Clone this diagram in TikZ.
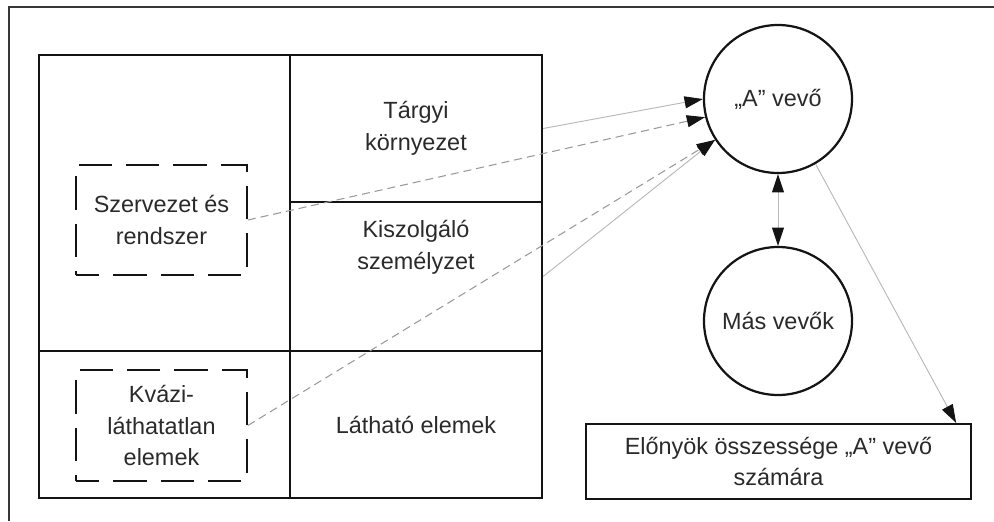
\documentclass[tikz,border=0pt]{standalone}
\usepackage{fontspec}
\setmainfont{Liberation Sans}
\usepackage{xcolor}
\usepackage{tikz}
\usetikzlibrary{arrows.meta, positioning, calc}
\definecolor{VV_LINE}{HTML}{141414}
\definecolor{VV_TEXT}{HTML}{2a2a2a}
\definecolor{VV_GRAY}{HTML}{b8b8b8}
\definecolor{VV_DASH}{HTML}{999999}
\tikzset{
  cell/.style={
    rectangle, inner sep=0pt,
    minimum width=7.56cm, minimum height=4.41cm,
    text centered, align=center,
    draw=VV_LINE, line width=1.9pt, text=VV_TEXT,
    font=\fontsize{20}{27}\selectfont},
  ghost/.style={
    rectangle, inner sep=0pt,
    minimum width=5.13cm, minimum height=3.3cm,
    text centered, align=center,
    draw=VV_LINE, line width=1.4pt, text=VV_TEXT,
    dash pattern=on 1.0cm off 0.42cm, dash phase=0.3cm,
    font=\fontsize{20}{27}\selectfont},
  buyer/.style={
    circle, inner sep=0pt, minimum size=4.44cm,
    text centered, align=center,
    draw=VV_LINE, line width=1.9pt, text=VV_TEXT,
    font=\fontsize{20}{27}\selectfont},
  gain/.style={
    rectangle, inner sep=0pt,
    minimum width=11.55cm, minimum height=2.25cm,
    text centered, align=center,
    draw=VV_LINE, line width=1.9pt, text=VV_TEXT,
    font=\fontsize{20}{27}\selectfont},
  txt/.style={text=VV_TEXT, align=center, inner sep=0pt,
    font=\fontsize{20}{27}\selectfont},
  arr/.style={-{Triangle[length=0.55cm,width=0.36cm,VV_LINE]},
    line width=0.8pt, color=VV_GRAY},
  darr/.style={-{Triangle[length=0.55cm,width=0.36cm,VV_LINE]},
    line width=0.9pt, color=VV_DASH, dash pattern=on 0.24cm off 0.15cm},
  both/.style={{Triangle[length=0.55cm,width=0.36cm,VV_LINE]}-{Triangle[length=0.55cm,width=0.36cm,VV_LINE]},
    line width=0.8pt, color=VV_GRAY},
  frame/.style={draw=VV_LINE!85, line width=1.8pt},
}

\begin{document}
\begin{tikzpicture}[x=0.03cm, y=-0.03cm]
  \useasboundingbox (0,0) rectangle (994,521);
  \draw[frame] (9,521) -- (9,7) -- (994,7);

  % service grid
  \node[cell, minimum width=7.53cm, minimum height=8.88cm] (org) at (164.5,203) {};
  \node[cell] (targyi) at (416,128.5) {Tárgyi\\környezet};
  \node[cell, minimum height=4.47cm] (kiszolg) at (416,276.5) {};
  \node[txt] (kiszolgtxt) at (416,247) {Kiszolgáló\\személyzet};
  \node[cell, minimum width=7.53cm] (rejtett) at (164.5,424.5) {};
  \node[cell] (lathato) at (416,424.5) {Látható elemek};

  \node[ghost] (szerv) at (161.5,220) {Szervezet és\\rendszer};
  \node[ghost, minimum height=3.33cm] (kvazi) at (161.5,425.5) {Kvázi-\\láthatatlan\\elemek};

  % buyers
  \node[buyer] (avevo) at (778,99) {„A” vevő};
  \node[buyer] (mas) at (778,321) {Más vevők};
  \node[gain] (elony) at (778.5,461.5) {Előnyök összessége „A” vevő\\számára};

  \draw[arr]  (targyi.east)  -- (avevo.180);
  \draw[darr] (szerv.east)   -- (avevo.194);
  \draw[darr] (kvazi.east)   -- (avevo.213);
  \draw[arr]  (kiszolg.east) -- (avevo.213);
  \draw[both] (avevo.south)  -- (mas.north);
  \draw[arr]  (avevo.-60)    -- ($(elony.north east)+(-16,0)$);

\end{tikzpicture}
\end{document}
